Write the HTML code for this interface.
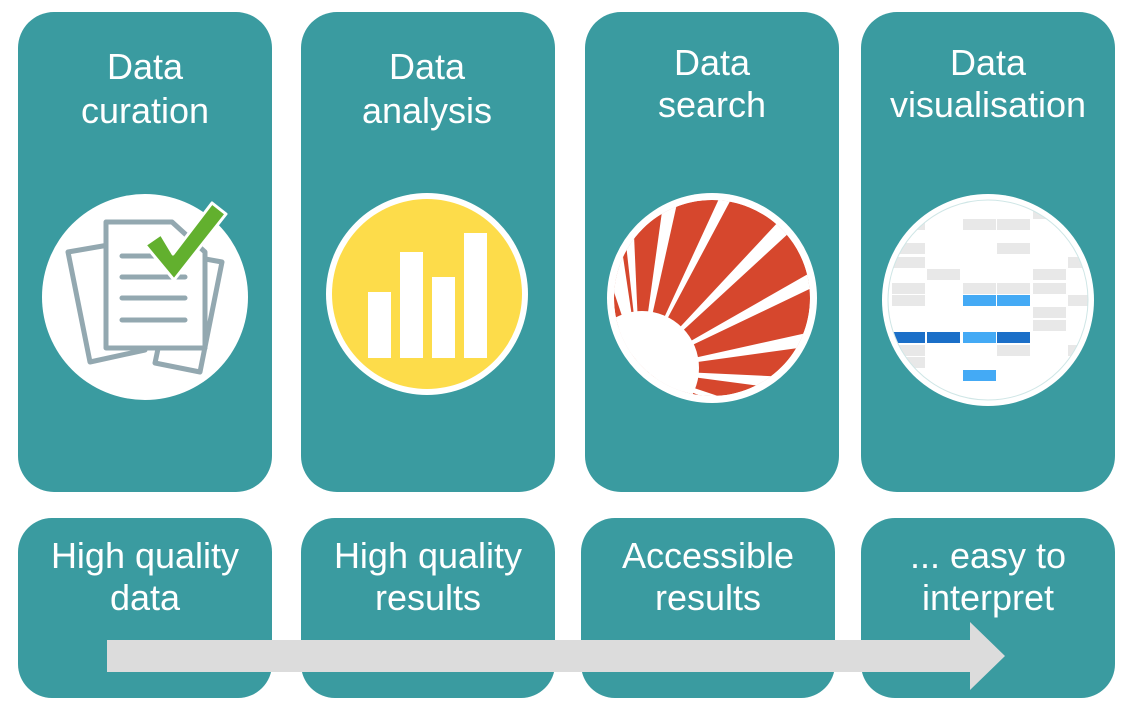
<!DOCTYPE html>
<html><head><meta charset="utf-8"><style>
html,body{margin:0;padding:0;background:#fff;width:1132px;height:714px;overflow:hidden}
svg text{font-family:"Liberation Sans",sans-serif;fill:#fff;font-size:36px;text-anchor:middle}
</style></head><body>
<svg width="1132" height="714" viewBox="0 0 1132 714" xmlns="http://www.w3.org/2000/svg">
<defs>
<clipPath id="cs"><circle cx="712" cy="298" r="98"/></clipPath>
<clipPath id="cv"><circle cx="988" cy="300" r="100"/></clipPath>
</defs>
<g fill="#3a9ba0">
<rect x="18" y="12" width="254" height="480" rx="36"/>
<rect x="301" y="12" width="254" height="480" rx="36"/>
<rect x="585" y="12" width="254" height="480" rx="36"/>
<rect x="861" y="12" width="254" height="480" rx="36"/>
<rect x="18" y="518" width="254" height="180" rx="34"/>
<rect x="301" y="518" width="254" height="180" rx="34"/>
<rect x="581" y="518" width="254" height="180" rx="34"/>
<rect x="861" y="518" width="254" height="180" rx="34"/>
</g>
<text x="145" y="79">Data</text><text x="145" y="123">curation</text>
<text x="427" y="79">Data</text><text x="427" y="123">analysis</text>
<text x="712" y="75">Data</text><text x="712" y="117">search</text>
<text x="988" y="75">Data</text><text x="988" y="117">visualisation</text>
<text x="145" y="568">High quality</text><text x="145" y="610">data</text>
<text x="428" y="568">High quality</text><text x="428" y="610">results</text>
<text x="708" y="568">Accessible</text><text x="708" y="610">results</text>
<text x="988" y="568">... easy to</text><text x="988" y="610">interpret</text>
<polygon points="107,640 970,640 970,622 1005,656 970,690 970,672 107,672" fill="#dcdcdc"/>
<!-- curation -->
<circle cx="145" cy="297" r="103" fill="#fff"/>
<g fill="none" stroke="#93a8b0" stroke-width="5" stroke-linejoin="round" stroke-linecap="round">
<polygon points="68,252 120,243 145,350 90,362" fill="#fff"/>
<polygon points="178,254 222,262 200,372 155,363" fill="#fff"/>
<path d="M106,222 L172,222 L205,252 L205,348 L106,348 Z" fill="#fff"/>
<path d="M122,256H185M122,277H185M122,298H185M122,320H185"/>
</g>
<path d="M145,245 L161,234 L173,254 L212,203 L226,214 L174,280 Z" fill="#62b02e" stroke="#fff" stroke-width="3" stroke-linejoin="round"/>
<!-- analysis -->
<circle cx="427" cy="294" r="101" fill="#fff"/>
<circle cx="427" cy="294" r="95" fill="#fddc4a"/>
<g fill="#fff"><rect x="368" y="292" width="23" height="66"/><rect x="400" y="252" width="23" height="106"/><rect x="432" y="277" width="23" height="81"/><rect x="464" y="233" width="23" height="125"/></g>
<!-- search -->
<circle cx="712" cy="298" r="105" fill="#fff"/>
<g clip-path="url(#cs)">
<circle cx="712" cy="298" r="98" fill="#d6472d"/>
<g fill="#fff">
<polygon points="640,370 600,250 622,250"/>
<polygon points="640,370 620,190 632,190"/>
<polygon points="640,370 665,190 680,190"/>
<polygon points="640,370 723,190 736,190"/>
<polygon points="640,370 780,220 790,232"/>
<polygon points="640,370 815,270 820,284"/>
<polygon points="640,370 820,330 820,345"/>
<polygon points="640,370 810,378 805,392"/>
<polygon points="640,370 790,420 780,430"/>
<polygon points="640,370 720,410 640,410"/>
<circle cx="642" cy="368" r="57"/>
<polygon points="600,290 640,370 600,410"/>
</g>
</g>
<!-- vis -->
<circle cx="988" cy="300" r="106" fill="#fff"/>
<g clip-path="url(#cv)">
<g fill="#e8e8e8">
<rect x="892" y="219" width="33" height="11"/><rect x="963" y="219" width="33" height="11"/><rect x="997" y="219" width="33" height="11"/><rect x="1033" y="208" width="33" height="11"/>
<rect x="892" y="243" width="33" height="11"/><rect x="997" y="243" width="33" height="11"/>
<rect x="892" y="257" width="33" height="11"/><rect x="1068" y="257" width="33" height="11"/>
<rect x="927" y="269" width="33" height="11"/><rect x="1033" y="269" width="33" height="11"/>
<rect x="892" y="283" width="33" height="11"/><rect x="963" y="283" width="33" height="11"/><rect x="997" y="283" width="33" height="11"/><rect x="1033" y="283" width="33" height="11"/>
<rect x="892" y="295" width="33" height="11"/><rect x="1068" y="295" width="33" height="11"/>
<rect x="1033" y="307" width="33" height="11"/><rect x="1033" y="320" width="33" height="11"/>
<rect x="892" y="345" width="33" height="11"/><rect x="997" y="345" width="33" height="11"/><rect x="1068" y="345" width="33" height="11"/>
<rect x="892" y="357" width="33" height="11"/>
</g>
<g fill="#44aaf5"><rect x="963" y="295" width="33" height="11"/><rect x="997" y="295" width="33" height="11"/><rect x="963" y="332" width="33" height="11"/><rect x="963" y="370" width="33" height="11"/></g>
<g fill="#1b6fc8"><rect x="892" y="332" width="33" height="11"/><rect x="927" y="332" width="33" height="11"/><rect x="997" y="332" width="33" height="11"/></g>
</g>
<circle cx="988" cy="300" r="100" fill="none" stroke="#cfe6e6" stroke-width="1"/>
</svg>
</body></html>
